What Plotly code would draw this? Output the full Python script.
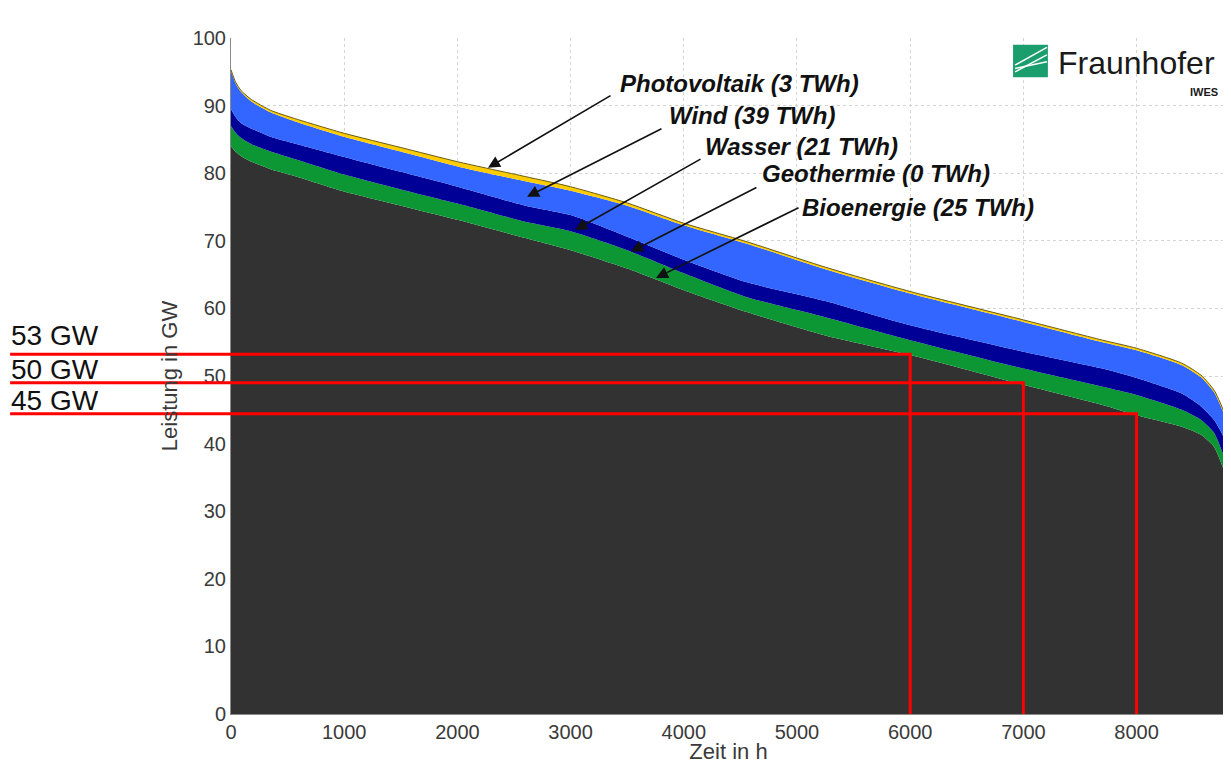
import plotly.graph_objects as go

# Jahresdauerlinie: hours sorted by load, cumulative tops of each layer (GW)
hours = [0, 40, 90, 180, 350, 560, 1000, 1500, 2000, 2600, 3000, 3500,
         4000, 4550, 5250, 6000, 7000, 7700, 8000, 8400, 8570, 8685, 8760, 8790]
top_total = [95.3, 93.5, 92.2, 90.9, 89.3, 88.1, 85.9, 83.8, 81.7, 79.5, 78.0, 75.6,
             72.6, 69.9, 66.1, 62.5, 58.3, 55.3, 54.1, 51.9, 50.1, 47.9, 45.2, 43.5]
pv_band = [0.2, 0.2, 0.2, 0.3, 0.3, 0.4, 0.5, 0.6, 0.7, 0.7, 0.6, 0.4,
           0.3, 0.3, 0.3, 0.3, 0.3, 0.3, 0.3, 0.3, 0.3, 0.3, 0.3, 0.3]
top_wasser = [89.5, 88.3, 87.4, 86.6, 85.4, 84.4, 82.4, 80.2, 78.0, 75.2, 73.8, 70.6,
              67.2, 63.9, 61.1, 57.5, 53.6, 51.1, 49.7, 47.4, 45.5, 43.5, 41.3, 39.5]
top_bio = [87.0, 86.0, 85.2, 84.3, 83.2, 82.1, 79.8, 77.6, 75.5, 72.8, 71.4, 68.6,
           65.2, 61.7, 58.7, 55.3, 51.1, 48.4, 47.2, 45.0, 43.5, 41.6, 38.6, 37.1]
top_rest = [84.0, 83.2, 82.5, 81.7, 80.6, 79.6, 77.3, 75.2, 73.1, 70.4, 68.6, 65.9,
            62.7, 59.5, 56.0, 53.1, 48.7, 45.7, 44.2, 42.5, 41.3, 39.5, 36.6, 35.0]
top_wind = [t - p for t, p in zip(top_total, pv_band)]

# red guide lines: GW level reached at given hour
guide_hours = [6000, 7000, 8000]
guide_levels = [53.2, 49.0, 44.4]
guide_labels = ["53 GW", "50 GW", "45 GW"]
guide_label_y = [56.0, 50.9, 46.4]

# callouts: text, text anchor (x, y), arrow tail (x, y), arrow head (x, y)
callout_text = ["Photovoltaik (3 TWh)", "Wind (39 TWh)", "Wasser (21 TWh)",
                "Geothermie (0 TWh)", "Bioenergie (25 TWh)"]
callout_pos = [(3420, 93.2), (3850, 88.5), (4170, 83.9), (4670, 80.0), (5030, 75.0)]
arrow_tail = [(3366, 91.6), (3816, 86.7), (4161, 82.2), (4655, 78.0), (5027, 75.0)]
arrow_head = [(2270, 80.8), (2615, 76.5), (3040, 71.6), (3534, 68.4), (3754, 64.5)]

FONT = "Liberation Sans, Arial, sans-serif"

fig = go.Figure()
layers = [
    (top_rest, "#323232", "tozeroy"),
    (top_bio, "#0c9634", "tonexty"),
    (top_wasser, "#000096", "tonexty"),
    (top_wind, "#3366ff", "tonexty"),
]
for ys, color, fill in layers:
    fig.add_trace(go.Scatter(x=hours, y=ys, mode="lines", fill=fill, fillcolor=color,
                             line={"width": 0, "color": color, "shape": "spline",
                                   "smoothing": 0.6},
                             showlegend=False, hoverinfo="skip"))
fig.add_trace(go.Scatter(x=hours, y=top_total, mode="lines", fill="tonexty",
                         fillcolor="#ffcc00",
                         line={"width": 1, "color": "#6b5a10", "shape": "spline",
                               "smoothing": 0.6},
                         showlegend=False, hoverinfo="skip"))

for h, lvl in zip(guide_hours, guide_levels):
    fig.add_trace(go.Scatter(x=[0, h, h], y=[lvl, lvl, 0], mode="lines",
                             line={"color": "#ff0000", "width": 3},
                             showlegend=False, hoverinfo="skip"))
    # stub of the line running out into the left margin
    fig.add_shape(type="line", xref="paper", yref="y", x0=-0.222, x1=0, y0=lvl, y1=lvl,
                  line={"color": "#ff0000", "width": 3})

for lab, ly in zip(guide_labels, guide_label_y):
    fig.add_annotation(text=lab, xref="paper", yref="y", x=-0.222, y=ly, xanchor="left",
                       yanchor="middle", showarrow=False, borderpad=0,
                       font={"family": FONT, "size": 28, "color": "#111111"})

for txt, (tx, ty), (ax, ay), (hx, hy) in zip(callout_text, callout_pos, arrow_tail, arrow_head):
    fig.add_annotation(text=txt, x=tx, y=ty, xanchor="left", yanchor="middle", showarrow=False,
                       font={"family": FONT, "size": 24, "color": "#111111",
                             "weight": "bold", "style": "italic"})
    fig.add_annotation(text="", x=hx, y=hy, ax=ax, ay=ay, axref="x", ayref="y",
                       showarrow=True, arrowhead=2, arrowsize=1.5, arrowwidth=1.6,
                       arrowcolor="#111111")

# Fraunhofer logo
fig.add_shape(type="rect", xref="paper", yref="paper", x0=0.786, x1=0.821, y0=0.942, y1=0.99,
              fillcolor="#1a9e6e", line={"width": 0})
for y0, y1 in [(0.950, 0.975), (0.955, 0.965), (0.960, 0.986)]:
    fig.add_shape(type="line", xref="paper", yref="paper", x0=0.788, x1=0.820, y0=y0, y1=y1,
                  line={"color": "white", "width": 1.5})
fig.add_annotation(text="Fraunhofer", xref="paper", yref="paper", x=0.829, y=0.963,
                   xanchor="left", yanchor="middle", showarrow=False,
                   font={"family": FONT, "size": 32, "color": "#1a1a1a"})
fig.add_annotation(text="<b>IWES</b>", xref="paper", yref="paper", x=0.994, y=0.92,
                   xanchor="right", yanchor="middle", showarrow=False,
                   font={"family": FONT, "size": 11, "color": "#1a1a1a"})

axis_common = dict(showgrid=True, gridcolor="#d4d4d4", griddash="dot", gridwidth=1,
                   showline=True, linecolor="#8a8a8a", linewidth=1, zeroline=False,
                   tickfont={"family": FONT, "size": 20, "color": "#3a3a3a"},
                   ticks="")
fig.update_xaxes(range=[0, 8790], tick0=0, dtick=1000,
                 title={"text": "Zeit in h", "standoff": 6,
                        "font": {"family": FONT, "size": 22, "color": "#3a3a3a"}},
                 **axis_common)
fig.update_yaxes(range=[0, 100], tick0=0, dtick=10,
                 title={"text": "Leistung in GW", "standoff": 8,
                        "font": {"family": FONT, "size": 22, "color": "#3a3a3a"}},
                 **axis_common)
# page body adds an 8px offset, so the figure is sized to sit inside the window
fig.update_layout(width=1218, height=756, plot_bgcolor="white", paper_bgcolor="white",
                  margin={"l": 223, "r": 0, "t": 30, "b": 50}, showlegend=False)
fig.write_html("out.html")
